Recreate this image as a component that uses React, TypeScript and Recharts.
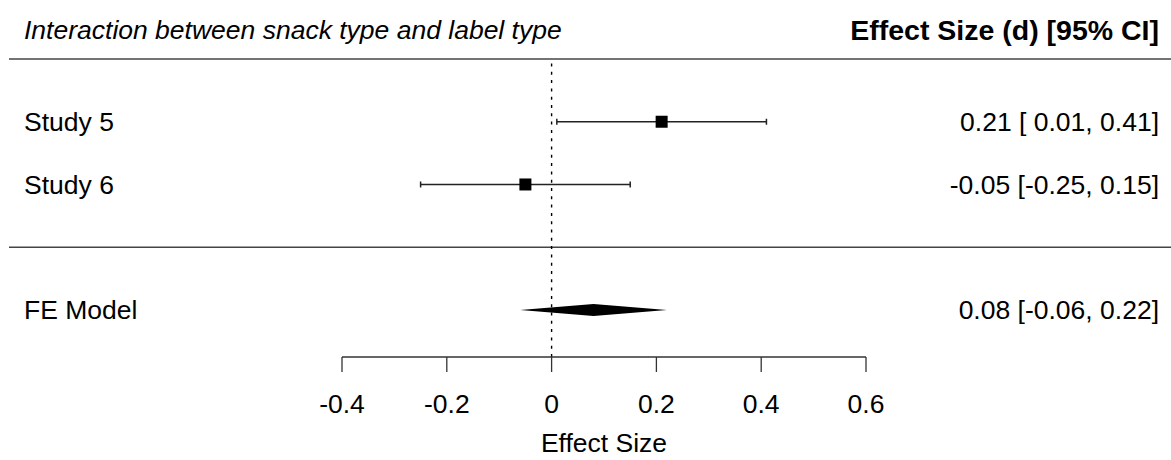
import React from "react";
import {
  ComposedChart,
  Scatter,
  XAxis,
  YAxis,
  ReferenceLine,
  ReferenceArea,
  ErrorBar,
} from "recharts";

// individual studies
const studyNames = ["Study 5", "Study 6"];
const studyEstimates = [0.21, -0.05];
const studyLower = [0.01, -0.25];
const studyUpper = [0.41, 0.15];
const studyRows = [2, 1];

// pooled fixed-effect estimate
const modelName = "FE Model";
const modelEstimate = 0.08;
const modelLower = -0.06;
const modelUpper = 0.22;
const modelRow = -1;

const xTicks = [-0.4, -0.2, 0, 0.2, 0.4, 0.6];

const W = 1171;
const H = 460;
const FONT = '"Liberation Sans", Arial, Helvetica, sans-serif';
const FS = 26.5;

const studyData = studyNames.map((name, i) => ({
  name,
  x: studyEstimates[i],
  y: studyRows[i],
  err: [studyEstimates[i] - studyLower[i], studyUpper[i] - studyEstimates[i]],
}));

const pad = (v: number) => (v < 0 ? v.toFixed(2) : " " + v.toFixed(2));
const ciText = (est: number, lo: number, hi: number) =>
  `${est.toFixed(2)} [${pad(lo)}, ${hi.toFixed(2)}]`;

const rowLabel: Record<number, string> = { [modelRow]: modelName };
const rowCI: Record<number, string> = {
  [modelRow]: ciText(modelEstimate, modelLower, modelUpper),
};
studyRows.forEach((r, i) => {
  rowLabel[r] = studyNames[i];
  rowCI[r] = ciText(studyEstimates[i], studyLower[i], studyUpper[i]);
});
const rowTicks = [...studyRows, modelRow];

const LeftTick = (props: any) => (
  <text x={24} y={props.y} dy="0.36em" fontSize={FS} fontFamily={FONT} fill="#000">
    {rowLabel[props.payload.value]}
  </text>
);

const RightTick = (props: any) => (
  <text
    x={1159}
    y={props.y}
    dy="0.36em"
    fontSize={FS}
    fontFamily={FONT}
    fill="#000"
    textAnchor="end"
  >
    {rowCI[props.payload.value]}
  </text>
);

const Square = (props: any) => (
  <rect x={props.cx - 6} y={props.cy - 6} width={12} height={12} fill="#000" />
);

// polygon spanning the CI, apex at the pooled estimate
const Diamond = (props: any) => {
  const { x, y, width, height } = props;
  const cy = y + height / 2;
  const apex = x + (width * (modelEstimate - modelLower)) / (modelUpper - modelLower);
  const half = 6;
  return (
    <polygon
      points={`${x},${cy} ${apex},${cy - half} ${x + width},${cy} ${apex},${cy + half}`}
      fill="#000"
    />
  );
};

// separator rules run the full width of the figure
const FullRule = (props: any) => (
  <line x1={9} x2={W} y1={props.y1} y2={props.y1} stroke="#444" strokeWidth={1.6} />
);

export default function App() {
  return (
    <div style={{ position: "absolute", left: 0, top: 0, width: W, height: H, background: "#fff" }}>
      <ComposedChart width={W} height={H} margin={{ top: 59, right: 0, bottom: 0, left: 0 }}>
        <XAxis
          type="number"
          dataKey="x"
          domain={[-0.4, 0.6]}
          ticks={xTicks}
          allowDataOverflow
          height={103}
          tickSize={15}
          tickMargin={22}
          tickFormatter={(v: number) => String(v)}
          axisLine={{ stroke: "#333", strokeWidth: 1.3 }}
          tickLine={{ stroke: "#333", strokeWidth: 1.3 }}
          tick={{ fill: "#000", fontSize: FS, fontFamily: FONT }}
          label={{
            value: "Effect Size",
            position: "insideBottom",
            offset: 8,
            fill: "#000",
            fontSize: FS,
            fontFamily: FONT,
          }}
        />
        <YAxis
          yAxisId="left"
          type="number"
          dataKey="y"
          domain={[-1.75, 3]}
          allowDataOverflow
          ticks={rowTicks}
          width={342}
          axisLine={false}
          tickLine={false}
          tick={LeftTick}
        />
        <YAxis
          yAxisId="right"
          orientation="right"
          type="number"
          domain={[-1.75, 3]}
          allowDataOverflow
          ticks={rowTicks}
          width={305}
          axisLine={false}
          tickLine={false}
          tick={RightTick}
        />
        <ReferenceLine yAxisId="left" y={3} shape={FullRule} />
        <ReferenceLine yAxisId="left" y={0} shape={FullRule} />
        <ReferenceLine
          yAxisId="left"
          x={0}
          stroke="#000"
          strokeWidth={1.4}
          strokeDasharray="3 5.3"
        />
        <Scatter
          yAxisId="left"
          data={studyData}
          shape={Square}
          isAnimationActive={false}
        >
          <ErrorBar
            dataKey="err"
            direction="x"
            width={3}
            stroke="#222"
            strokeWidth={1.5}
            isAnimationActive={false}
          />
        </Scatter>
        <ReferenceArea
          yAxisId="left"
          x1={modelLower}
          x2={modelUpper}
          y1={modelRow - 0.5}
          y2={modelRow + 0.5}
          shape={Diamond}
        />
      </ComposedChart>
      <svg
        width={W}
        height={H}
        style={{ position: "absolute", left: 0, top: 0, pointerEvents: "none" }}
      >
        <text x={24} y={39} fontSize={FS} fontFamily={FONT} fontStyle="italic" fill="#000">
          Interaction between snack type and label type
        </text>
        <text
          x={1159}
          y={39.5}
          fontSize={28.5}
          fontFamily={FONT}
          fontWeight="bold"
          textAnchor="end"
          fill="#000"
        >
          Effect Size (d) [95% CI]
        </text>
      </svg>
    </div>
  );
}
